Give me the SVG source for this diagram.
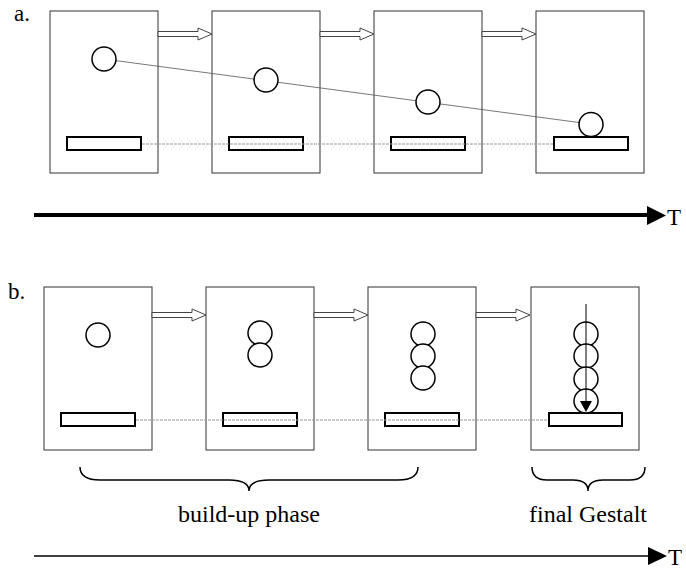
<svg xmlns="http://www.w3.org/2000/svg" width="686" height="571" viewBox="0 0 686 571">
<defs>
<style>
.panel{fill:#fff;stroke:#333;stroke-width:1}
.bar{fill:#fff;stroke:#000;stroke-width:2}
.ball{fill:#fff;stroke:#000;stroke-width:1.5}
.hollow{fill:#fff;stroke:#444;stroke-width:1}
.dash{fill:none;stroke:#999;stroke-width:1;stroke-dasharray:3 1}
.thin{fill:none;stroke:#555;stroke-width:0.8}
.brace{fill:none;stroke:#000;stroke-width:1.5}
.lbl{fill:#000;font-family:"Liberation Serif","Times New Roman",serif}
</style>
<path id="ha" d="M0,-2.5 H40 V-6 L54,0 L40,6 V2.5 H0 Z"/>
</defs>
<rect width="686" height="571" fill="#fff"/>
<text class="lbl" x="14" y="21" font-size="23">a.</text>
<text class="lbl" x="8" y="299" font-size="23">b.</text>
<g id="panel-a1"><rect class="panel" x="50" y="11" width="108" height="162"/><rect class="bar" x="67" y="137" width="74" height="13"/></g>
<g id="panel-a2"><rect class="panel" x="212" y="11" width="108" height="162"/><rect class="bar" x="229" y="137" width="74" height="13"/></g>
<g id="panel-a3"><rect class="panel" x="374" y="11" width="108" height="162"/><rect class="bar" x="391" y="137" width="74" height="13"/></g>
<g id="panel-a4"><rect class="panel" x="536" y="11" width="108" height="162"/><rect class="bar" x="554" y="137" width="74" height="13"/></g>
<g id="panel-b1"><rect class="panel" x="44" y="287" width="108" height="163"/><rect class="bar" x="61" y="413" width="74" height="13"/><circle class="ball" cx="98" cy="335" r="12"/></g>
<g id="panel-b2"><rect class="panel" x="206" y="287" width="108" height="163"/><rect class="bar" x="223" y="413" width="74" height="13"/><circle class="ball" cx="260" cy="333" r="12"/><circle class="ball" cx="260" cy="355" r="12"/></g>
<g id="panel-b3"><rect class="panel" x="368" y="287" width="108" height="163"/><rect class="bar" x="385" y="413" width="74" height="13"/><circle class="ball" cx="423" cy="334" r="12"/><circle class="ball" cx="423" cy="356" r="12"/><circle class="ball" cx="423" cy="378" r="12"/></g>
<g id="panel-b4"><rect class="panel" x="531" y="287" width="108" height="163"/><rect class="bar" x="549" y="413" width="73" height="13"/>
<circle class="ball" cx="586" cy="334" r="12"/><circle class="ball" cx="586" cy="356" r="12"/><circle class="ball" cx="586" cy="379" r="12"/><circle class="ball" cx="586" cy="401" r="12"/>
<line x1="586" y1="304" x2="586" y2="402" stroke="#000" stroke-width="1"/>
<path d="M580,401 L592,401 L586,412 Z" fill="#000"/>
</g>
<g id="connectors">
<line class="dash" x1="142" y1="144" x2="553" y2="144"/>
<line class="dash" x1="136" y1="420" x2="548" y2="420"/>
<line class="thin" x1="115" y1="60.5" x2="579" y2="122.5"/>
<use href="#ha" class="hollow" x="158" y="34"/>
<use href="#ha" class="hollow" x="320" y="34"/>
<use href="#ha" class="hollow" x="482" y="34"/>
<use href="#ha" class="hollow" x="152" y="315"/>
<use href="#ha" class="hollow" x="314" y="315"/>
<use href="#ha" class="hollow" x="476" y="315"/>
</g>
<g id="balls-a">
<circle class="ball" cx="104" cy="59" r="12"/>
<circle class="ball" cx="266" cy="80" r="12"/>
<circle class="ball" cx="428" cy="102" r="12"/>
<circle class="ball" cx="591" cy="124.5" r="12"/>
</g>
<g id="axis-a">
<line x1="34" y1="215" x2="648" y2="215" stroke="#000" stroke-width="4"/>
<path d="M647,206 L666,215.5 L647,225 Z" fill="#000"/>
<text class="lbl" x="667" y="225" font-size="23">T</text>
</g>
<g id="brace-build">
<path class="brace" d="M80,467 Q80,480 100,480 L229,480 Q249,480 249,491 Q249,480 269,480 L398,480 Q418,480 418,467"/>
<text class="lbl" x="249" y="522" font-size="24" text-anchor="middle">build-up phase</text>
</g>
<g id="brace-final">
<path class="brace" d="M532,467 Q532,480 547,480 L573,480 Q588,480 588,491 Q588,480 603,480 L630,480 Q645,480 645,467"/>
<text class="lbl" x="588" y="522" font-size="24" text-anchor="middle">final Gestalt</text>
</g>
<g id="axis-b">
<line x1="34" y1="556" x2="650" y2="556" stroke="#000" stroke-width="1.5"/>
<path d="M648,547 L667,556 L648,565 Z" fill="#000"/>
<text class="lbl" x="668" y="565" font-size="23">T</text>
</g>
</svg>
